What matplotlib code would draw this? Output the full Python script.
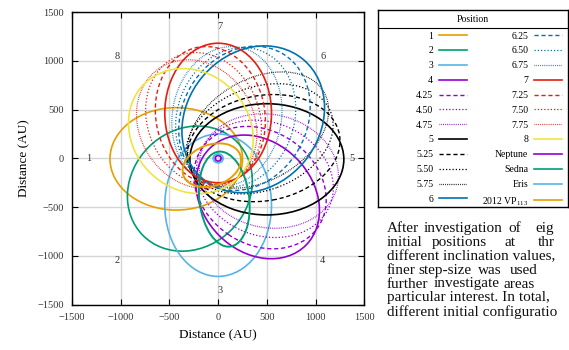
import numpy as np
import matplotlib.pyplot as plt
from matplotlib.patches import Ellipse
from matplotlib.lines import Line2D

plt.rcParams['font.family'] = ['Liberation Serif', 'DejaVu Serif']
plt.rcParams['mathtext.fontset'] = 'custom'
plt.rcParams['mathtext.rm'] = 'Liberation Serif'

# --- orbits (AU): centre, major/minor axis, tilt of major axis ---
positions = ["1", "2", "3", "4", "4.25", "4.50", "4.75", "5", "5.25", "5.50",
             "5.75", "6", "6.25", "6.50", "6.75", "7", "7.25", "7.50", "7.75", "8"]
cen_x = [-430, -290, 0, 406, 430, 480, 520, 500, 467, 425,
         410, 360, 270, 180, 90, 0, -80, -150, -220, -280]
cen_y = [-5, -310, -480, -395, -300, -210, -130, -10, 105, 200,
         290, 400, 410, 420, 430, 465, 440, 400, 350, 280]
major = [1360, 1360, 1460, 1400, 1440, 1440, 1440, 1580, 1580, 1560,
         1560, 1600, 1540, 1460, 1440, 1430, 1420, 1400, 1380, 1360]
minor = [1050, 1200, 1095, 1120, 1160, 1160, 1160, 1140, 1080, 1060,
         1040, 1360, 1280, 1200, 1120, 1095, 1120, 1150, 1170, 1196]
tilt = [0, 45, 90, -45, -34, -22, -12, 0, 10, 20,
        30, 50, 60, 70, 80, 90, 100, 112, 123, 135]

bodies = ["Neptune", "Sedna", "Eris", r"2012 VP$_{113}$"]
body_x = [0, 63, 0, -65]
body_y = [0, -418, 0, -70]
body_major = [60, 980, 100, 620]
body_minor = [60, 512, 90, 420]
body_tilt = [0, 97, 0, 20]

# gnuplot default palette, one colour per whole position
pos_colors = {"1": "#E69F00", "2": "#009E73", "3": "#56B4E9", "4": "#9400D3",
              "5": "black", "6": "#0072B2", "7": "#E51E10", "8": "#F0E442"}
frac_style = {"": "-", "25": (0, (3, 2)), "50": (0, (1, 1.6)), "75": (0, (0.6, 0.9))}
body_colors = ["#9400D3", "#009E73", "#56B4E9", "#E69F00"]

fig = plt.figure(figsize=(5.69, 3.5), dpi=100)
ax = fig.add_axes([72/569, 45.3/350, 292.3/569, 292.7/350])

handles = []
for p, x, y, a, b, t in zip(positions, cen_x, cen_y, major, minor, tilt):
    whole, _, frac = p.partition(".")
    c = pos_colors[whole]
    ls = frac_style[frac]
    lw = 1.2 if frac == "" else (1.0 if frac == "25" else 0.9)
    ax.add_patch(Ellipse((x, y), a, b, angle=t, fill=False, ec=c, ls=ls, lw=lw))
    handles.append(Line2D([], [], color=c, ls=ls, lw=lw))

for x, y, a, b, t, c in zip(body_x, body_y, body_major, body_minor, body_tilt, body_colors):
    ax.add_patch(Ellipse((x, y), a, b, angle=t, fill=False, ec=c, lw=1.4))
    handles.append(Line2D([], [], color=c, lw=1.2))

# position markers around the plot
lab_x = [-1330, -1033, 20, 1074, 1371, 1074, 20, -1033]
lab_y = [0, -1052, -1350, -1052, 0, 1048, 1355, 1048]
for i, (x, y) in enumerate(zip(lab_x, lab_y)):
    ax.text(x, y, str(i + 1), ha="center", va="center", fontsize=7.5, color="#333333")

ax.set_xlim(-1500, 1500)
ax.set_ylim(-1500, 1500)
ticks = np.arange(-1500, 1501, 500)
ax.set_xticks(ticks)
ax.set_yticks(ticks)
ax.tick_params(direction="in", top=True, right=True, length=4, width=0.8,
               labelsize=7.5, labelcolor="#333333", pad=6)
ax.grid(True, color="#d6d6d6", lw=1.0)
ax.set_axisbelow(True)
for s in ax.spines.values():
    s.set_linewidth(1.0)
ax.set_xlabel("Distance (AU)", fontsize=9.5, labelpad=5)
ax.set_ylabel("Distance (AU)", fontsize=9.5, labelpad=5)

# legend box with title bar
lax = fig.add_axes([378.3/569, (350-206.7)/350, (567.5-378.3)/569, (206.7-10)/350])
lax.set_xlim(0, 1)
lax.set_ylim(0, 1)
lax.set_xticks([])
lax.set_yticks([])
for s in lax.spines.values():
    s.set_linewidth(1.0)
lax.axhline((206.7-27.7)/196.7, color="black", lw=0.8)
lax.text(0.5, (206.7-19)/196.7, "Position", ha="center", va="center", fontsize=7)
labels = positions + bodies
lax.legend(handles, labels, ncol=2, markerfirst=False, frameon=False,
           loc="upper right", bbox_to_anchor=(0.9725, 0.89), fontsize=7,
           handlelength=2.9, handletextpad=0.6, columnspacing=1.5,
           labelspacing=0.6, borderpad=0, borderaxespad=0)

# justified paragraph text below the legend (cut by the page edge)
para = [
    (228.3, [(386.7, "After"), (423.3, "investigation"), (508.3, "of"), (535, "eig")]),
    (242.3, [(386.7, "initial"), (431.7, "positions"), (504.3, "at"), (537.7, "thr")]),
    (256.7, [(386.7, "different inclination values,")]),
    (270.3, [(386.7, "finer"), (418.3, "step-size"), (478.3, "was"), (510, "used")]),
    (284.0, [(386.7, "further"), (433.3, "investigate"), (503.3, "areas")]),
    (298.0, [(386.7, "particular interest. In total,")]),
    (312.0, [(386.7, "different initial configuratio")]),
]
for py, words in para:
    for px, w in words:
        fig.text(px/569, 1 - py/350, w, ha="left", va="center", fontsize=11, color="#111111")

fig.savefig("out.png", dpi=100)
